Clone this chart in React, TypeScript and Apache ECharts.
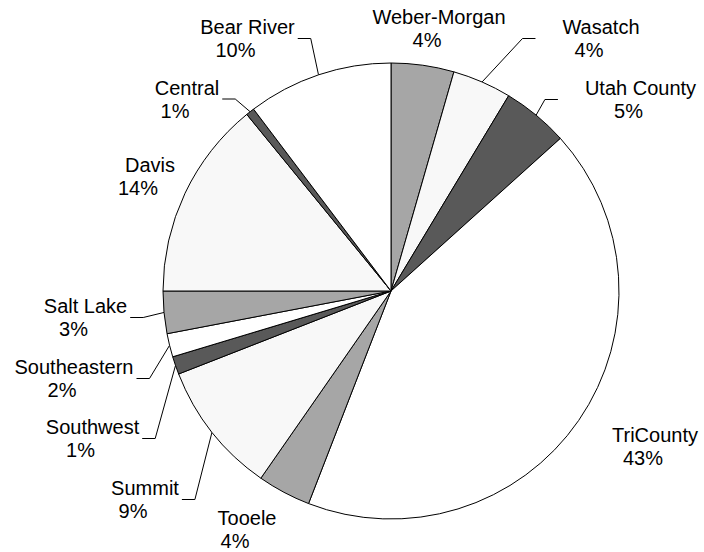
import React, { useEffect, useRef } from "react";
import * as echarts from "echarts";

// ---- data ----
const categories = [
  "Weber-Morgan",
  "Wasatch",
  "Utah County",
  "TriCounty",
  "Tooele",
  "Summit",
  "Southwest",
  "Southeastern",
  "Salt Lake",
  "Davis",
  "Central",
  "Bear River",
];
const shares = [4.45, 4.18, 4.7, 42.56, 3.78, 9.4, 1.27, 1.66, 3.0, 14.1, 0.6, 10.3];

// ---- styles / layout ----
const sliceColors = [
  "#a6a6a6", "#f8f8f8", "#595959", "#ffffff",
  "#a6a6a6", "#f8f8f8", "#595959", "#ffffff",
  "#a6a6a6", "#f8f8f8", "#595959", "#ffffff",
];
// visible centre of the first label line (x) and middle of label block (y)
const labelAnchors: [number, number][] = [
  [439, 28],
  [601, 38.5],
  [640.5, 99.5],
  [655, 446.5],
  [247, 529],
  [145, 499.5],
  [92.5, 438.5],
  [74, 378.5],
  [85.5, 317.5],
  [150, 176.5],
  [187, 99],
  [247.5, 38.5],
];
const hasLeader = [false, true, true, false, false, true, true, true, true, false, true, true];

const CX = 391;
const CY = 291;
const R = 228;
const FONT = "'Liberation Sans', Arial, Helvetica, sans-serif";

export default function App() {
  const ref = useRef<HTMLDivElement>(null);

  useEffect(() => {
    if (!ref.current) return;
    const chart = echarts.init(ref.current, undefined, { renderer: "svg" });
    const total = shares.reduce((a, b) => a + b, 0);

    const data = categories.map((name, i) => ({
      name,
      value: shares[i],
      itemStyle: { color: sliceColors[i] },
      labelLine: { show: hasLeader[i] },
    }));

    chart.setOption({
      animation: false,
      backgroundColor: "#ffffff",
      series: [
        {
          type: "pie",
          center: [CX, CY],
          radius: R,
          startAngle: 90,
          clockwise: true,
          avoidLabelOverlap: false,
          data,
          itemStyle: { borderColor: "#000000", borderWidth: 1 },
          emphasis: { disabled: true },
          label: {
            show: true,
            position: "outside",
            color: "#000000",
            fontFamily: FONT,
            fontSize: 20,
            lineHeight: 23,
            formatter: (p: any) =>
              `{n|${p.name}}\n{p|${Math.round(p.percent)}%}`,
            rich: {
              n: {
                fontFamily: FONT,
                fontSize: 20,
                lineHeight: 23,
                color: "#000000",
                align: "center",
                padding: [0, 0, 0, 24],
              },
              p: {
                fontFamily: FONT,
                fontSize: 20,
                lineHeight: 23,
                color: "#000000",
                align: "center",
              },
            },
          },
          labelLine: {
            show: true,
            lineStyle: { color: "#000000", width: 1 },
          },
          labelLayout: (params: any) => {
            const i = params.dataIndex;
            const [vx, vy] = labelAnchors[i];
            const x = vx - 12;
            const w = params.labelRect ? params.labelRect.width : 100;
            const res: any = { x, y: vy, align: "center", verticalAlign: "middle" };
            if (hasLeader[i]) {
              const left = x < CX;
              const endX = left ? x + w / 2 + 3 : x - w / 2 - 3;
              const bendX = left ? endX + 13 : endX - 13;
              let cum = 0;
              for (let k = 0; k < i; k++) cum += shares[k];
              const mid = ((cum + shares[i] / 2) / total) * Math.PI * 2;
              const sx = CX + R * Math.sin(mid);
              const sy = CY - R * Math.cos(mid);
              res.labelLinePoints = [
                [sx, sy],
                [bendX, vy],
                [endX, vy],
              ];
            }
            return res;
          },
        },
      ],
    });

    return () => chart.dispose();
  }, []);

  return (
    <div
      ref={ref}
      style={{ position: "fixed", left: 0, top: 0, width: 704, height: 552 }}
    />
  );
}
